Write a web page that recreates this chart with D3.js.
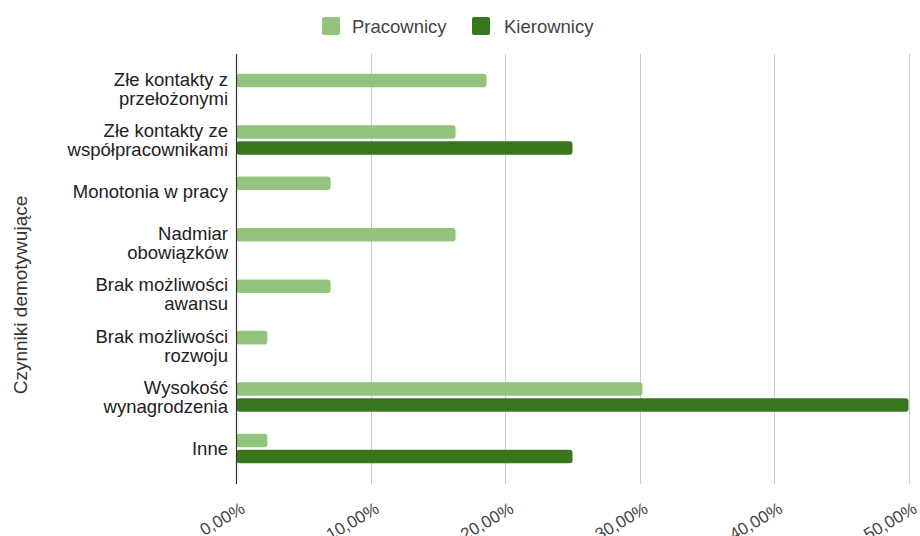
<!DOCTYPE html>
<html>
<head>
<meta charset="utf-8">
<script src="https://cdn.jsdelivr.net/npm/d3@7"></script>
<style>
  html, body { margin: 0; padding: 0; background: #fff; }
  svg { display: block; font-family: Arial, "Liberation Sans", sans-serif; }
</style>
</head>
<body>
<svg id="chart" width="920" height="536"></svg>
<script>
// Demotivating factors: share of answers among employees and managers
const categories = [
  ["Złe kontakty z", "przełożonymi"],
  ["Złe kontakty ze", "współpracownikami"],
  ["Monotonia w pracy"],
  ["Nadmiar", "obowiązków"],
  ["Brak możliwości", "awansu"],
  ["Brak możliwości", "rozwoju"],
  ["Wysokość", "wynagrodzenia"],
  ["Inne"]
];
const seriesNames = ["Pracownicy", "Kierownicy"];
const pracownicy = [0.186, 0.163, 0.070, 0.163, 0.070, 0.023, 0.302, 0.023];
const kierownicy = [0, 0.25, 0, 0, 0, 0, 0.50, 0.25];
const xTicks = [0, 0.1, 0.2, 0.3, 0.4, 0.5];
const xTickLabels = ["0,00%", "10,00%", "20,00%", "30,00%", "40,00%", "50,00%"];
const yTitle = "Czynniki demotywujące";
const colors = ["#93c47d", "#38761d"];

const svg = d3.select("#chart");
const plotTop = 54, plotBottom = 484;

const x = d3.scaleLinear().domain([0, 0.5]).range([236.5, 908.5]);
const y = d3.scaleBand().domain(d3.range(categories.length)).range([62.8, 474.2]).padding(0);
const inner = d3.scaleBand().domain(seriesNames).range([0, 29.6]).paddingInner(0.156);

// vertical gridlines
svg.append("g")
  .selectAll("line")
  .data(xTicks.slice(1))
  .join("line")
  .attr("x1", d => Math.round(x(d)) + 0.5)
  .attr("x2", d => Math.round(x(d)) + 0.5)
  .attr("y1", plotTop)
  .attr("y2", plotBottom)
  .attr("stroke", "#cccccc")
  .attr("stroke-width", 1);

// bars, one pair per category
const rows = categories.map((c, i) => ({ i, values: [pracownicy[i], kierownicy[i]] }));
const groups = svg.append("g").selectAll("g")
  .data(rows)
  .join("g")
  .attr("transform", d => `translate(0,${y(d.i) + y.bandwidth() / 2 - 14.8})`);
groups.selectAll("rect")
  .data(d => d.values.map((v, k) => ({ v, k })).filter(e => e.v > 0))
  .join("rect")
  .attr("x", x(0))
  .attr("y", d => inner(seriesNames[d.k]))
  .attr("width", d => x(d.v) - x(0))
  .attr("height", inner.bandwidth())
  .attr("rx", 3)
  .attr("fill", d => colors[d.k]);

// baseline axis
svg.append("line")
  .attr("x1", 236.5).attr("x2", 236.5)
  .attr("y1", plotTop).attr("y2", plotBottom)
  .attr("stroke", "#333").attr("stroke-width", 1.2);

// category labels (wrapped over two lines where needed)
const labels = svg.append("g").selectAll("text")
  .data(categories)
  .join("text")
  .attr("text-anchor", "end")
  .attr("font-size", 18.5)
  .attr("fill", "#222")
  .attr("transform", (d, i) => `translate(228,${y(i) + y.bandwidth() / 2})`);
labels.selectAll("tspan")
  .data(d => d.map((t, j) => ({ t, j, n: d.length })))
  .join("tspan")
  .attr("x", 0)
  .attr("y", d => (d.j - (d.n - 1) / 2) * 19 + 6.5)
  .text(d => d.t);

// x tick labels, rotated
svg.append("g").selectAll("text")
  .data(xTicks)
  .join("text")
  .attr("text-anchor", "end")
  .attr("font-size", 17)
  .attr("fill", "#444")
  .attr("transform", d => `translate(${x(d) + 9.5},${512}) rotate(-30)`)
  .text((d, i) => xTickLabels[i]);

// y axis title
svg.append("text")
  .attr("text-anchor", "middle")
  .attr("font-size", 19)
  .attr("fill", "#333")
  .attr("transform", "translate(27,295) rotate(-90)")
  .text(yTitle);

// legend
const legendItems = [
  { name: seriesNames[0], color: colors[0], sx: 322, tx: 352 },
  { name: seriesNames[1], color: colors[1], sx: 472, tx: 504 }
];
const lg = svg.append("g");
lg.selectAll("rect")
  .data(legendItems)
  .join("rect")
  .attr("x", d => d.sx).attr("y", 17)
  .attr("width", 18).attr("height", 18)
  .attr("rx", 2)
  .attr("fill", d => d.color);
lg.selectAll("text")
  .data(legendItems)
  .join("text")
  .attr("x", d => d.tx).attr("y", 32.5)
  .attr("font-size", 18.5)
  .attr("fill", "#444")
  .text(d => d.name);
</script>
</body>
</html>
